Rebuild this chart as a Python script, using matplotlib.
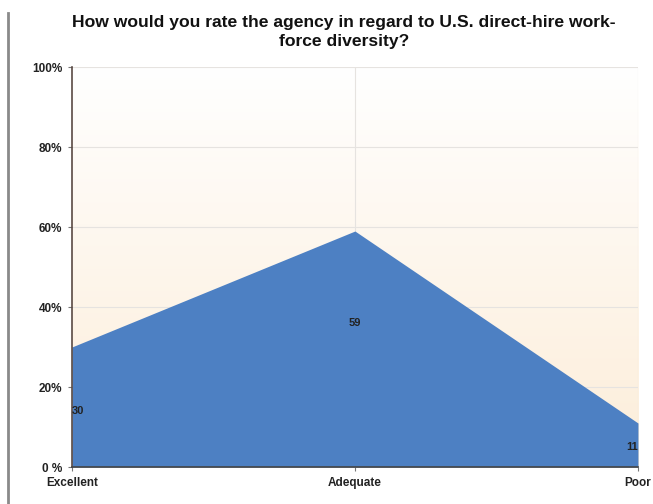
import numpy as np
import matplotlib
matplotlib.use("Agg")
import matplotlib.pyplot as plt
from matplotlib.lines import Line2D

plt.rcParams['font.family'] = ['Liberation Sans', 'DejaVu Sans']

# data
categories = ['Excellent', 'Adequate', 'Poor']
values = [30, 59, 11]
label_heights = [14, 36, 5]
y_ticks = [0, 20, 40, 60, 80, 100]
y_tick_labels = ['0 %', '20%', '40%', '60%', '80%', '100%']
title = 'How would you rate the agency in regard to U.S. direct-hire work-\nforce diversity?'

fill_color = '#4d80c3'

fig = plt.figure(figsize=(6.53, 5.04), dpi=100)
ax = fig.add_axes([0.110, 0.0734, 0.867, 0.7936])

x = np.arange(len(categories))

# background gradient, white at top to light peach at bottom
grad = np.linspace(0, 1, 256).reshape(-1, 1)
top = np.array([1.0, 1.0, 1.0])
bottom = np.array([0.99, 0.93, 0.85])
img = top + (bottom - top) * grad
ax.imshow(img[::-1].reshape(256, 1, 3), extent=[0, len(categories) - 1, 0, 100],
          aspect='auto', origin='lower', zorder=0)

ax.set_xlim(0, len(categories) - 1)
ax.set_ylim(0, 100)

for yv in y_ticks[1:]:
    ax.axhline(yv, color='#e6e3e0', lw=0.8, zorder=1)
for xv in x[1:]:
    ax.axvline(xv, color='#e6e3e0', lw=0.8, zorder=1)

ax.fill_between(x, values, 0, color=fill_color, lw=0, zorder=2)

for xi, v, h in zip(x, values, label_heights):
    ha = 'left' if xi == 0 else ('right' if xi == len(categories) - 1 else 'center')
    ax.text(xi, h, str(v), ha=ha, va='center', fontsize=8, fontweight='bold',
            color='#222222', zorder=3)

ax.set_xticks(x)
ax.set_xticklabels(categories, fontsize=8.5, fontweight='bold', color='#222222')
ax.set_yticks(y_ticks)
ax.set_yticklabels(y_tick_labels, fontsize=8.5, fontweight='bold', color='#222222')
ax.tick_params(axis='both', length=3, width=0.8, color='#777777', pad=4)

for side in ['top', 'right']:
    ax.spines[side].set_visible(False)
ax.spines['left'].set_color('#5a4a44')
ax.spines['left'].set_linewidth(1.2)
ax.spines['bottom'].set_color('#444444')
ax.spines['bottom'].set_linewidth(1.2)

fig.text(0.527, 0.97, title, ha='center', va='top', fontsize=12.6,
         fontweight='bold', linespacing=1.35, color='#111111')

# thin gray rule on the far left of the page
fig.add_artist(Line2D([0.013, 0.013], [0.0, 0.975], color='#8a8a8a', lw=2,
                      transform=fig.transFigure))

fig.savefig('out.png', dpi=100)
